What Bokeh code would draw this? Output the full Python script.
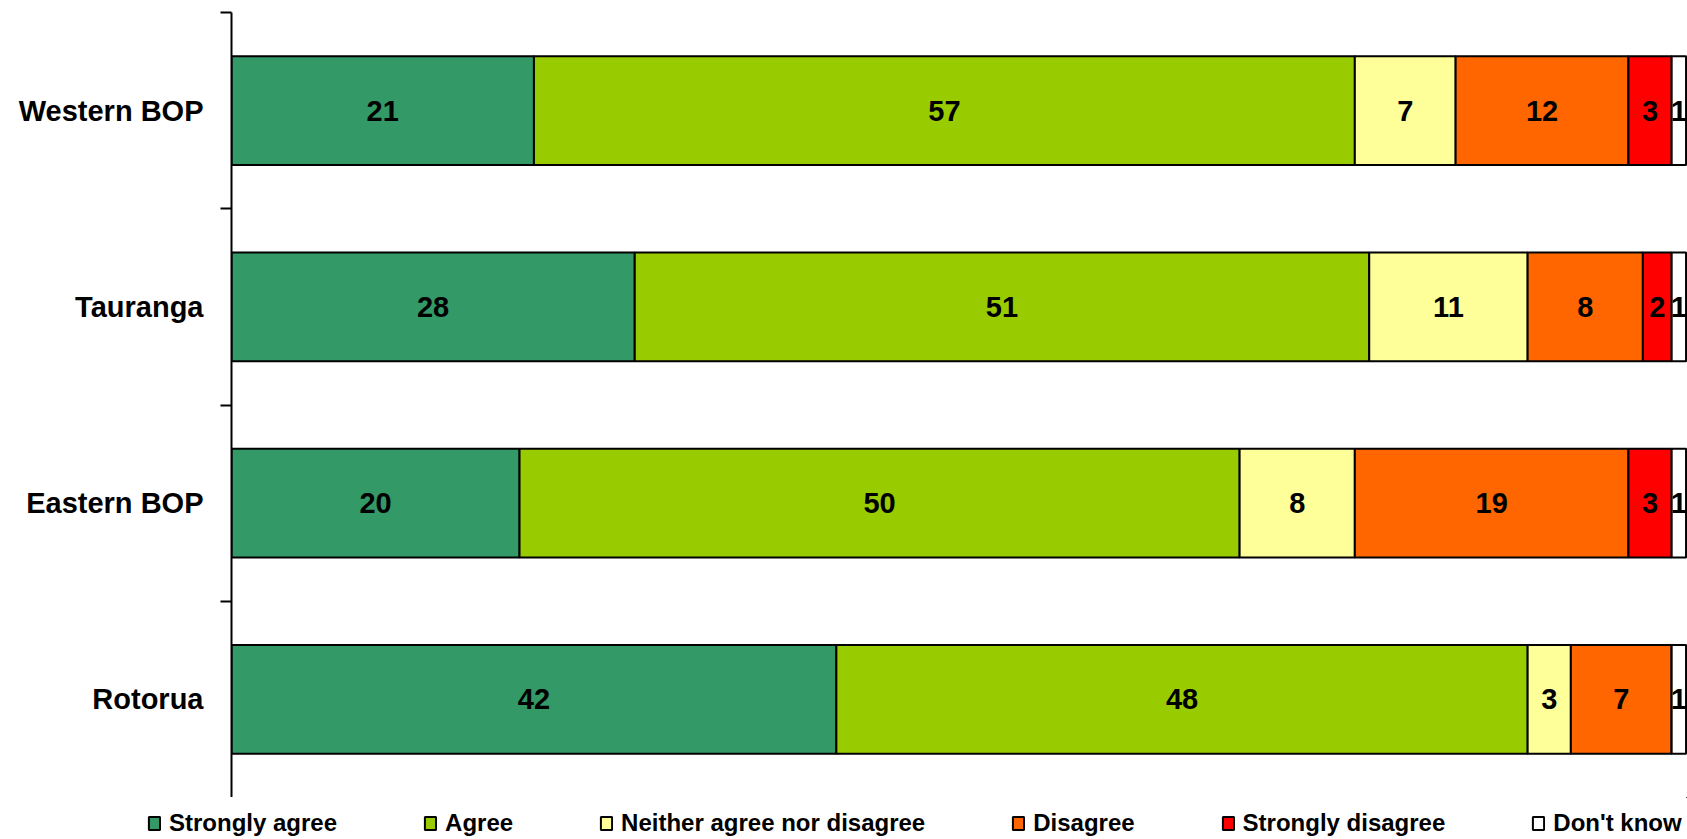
from bokeh.plotting import figure
from bokeh.layouts import column
from bokeh.models import Range1d, LinearAxis, FixedTicker, ColumnDataSource, Legend, LegendItem
from bokeh.core.properties import value
from bokeh.embed import file_html
from bokeh.resources import INLINE

# ---- data (top to bottom) ----
regions = ["Western BOP", "Tauranga", "Eastern BOP", "Rotorua"]
series_names = ["Strongly agree", "Agree", "Neither agree nor disagree",
                "Disagree", "Strongly disagree", "Don't know"]
strongly_agree = [21, 28, 20, 42]
agree = [57, 51, 50, 48]
neither = [7, 11, 8, 3]
disagree = [12, 8, 19, 7]
strongly_disagree = [3, 2, 3, 0]
dont_know = [1, 1, 1, 1]
colors = ["#339966", "#99CC00", "#FFFF99", "#FF6600", "#FF0000", "#FFFFFF"]

series_values = [strongly_agree, agree, neither, disagree, strongly_disagree, dont_know]

FONT = "Liberation Sans"

ypos = [len(regions) - 0.5 - i for i in range(len(regions))]

p = figure(width=1687, height=797, output_backend="svg", toolbar_location=None,
           x_range=Range1d(0, 101.1), y_range=Range1d(0, len(regions)),
           x_axis_location=None, y_axis_location=None,
           min_border_left=231, min_border_right=0, min_border_top=12, min_border_bottom=0)
p.frame_align = False
p.outline_line_color = None
p.grid.visible = False
p.background_fill_color = "white"

yaxis = LinearAxis(ticker=FixedTicker(ticks=ypos, minor_ticks=[1, 2, 3, 4]))
yaxis.major_label_overrides = {y: r for y, r in zip(ypos, regions)}
yaxis.major_tick_line_color = None
yaxis.major_tick_out = 0
yaxis.major_tick_in = 0
yaxis.minor_tick_out = 11
yaxis.minor_tick_in = 0
yaxis.minor_tick_line_color = "black"
yaxis.minor_tick_line_width = 2
yaxis.axis_line_color = "black"
yaxis.axis_line_width = 2
yaxis.major_label_text_font = FONT
yaxis.major_label_text_font_style = "bold"
yaxis.major_label_text_font_size = "29px"
yaxis.major_label_text_color = "black"
yaxis.major_label_standoff = 17
p.add_layout(yaxis, "left")

cum = [0] * len(regions)
lx, ly, lt = [], [], []
for name, vals, col in zip(series_names, series_values, colors):
    left = list(cum)
    right = [c + v for c, v in zip(cum, vals)]
    src = ColumnDataSource(dict(y=ypos, left=left, right=right))
    p.hbar(y="y", left="left", right="right", height=0.555, source=src,
           fill_color=col, line_color="black", line_width=2)
    for yy, a, b, v in zip(ypos, left, right, vals):
        if v > 0:
            lx.append((a + b) / 2)
            ly.append(yy)
            lt.append(str(v))
    cum = right

p.text(x=lx, y=ly, text=lt, text_font=value(FONT), text_font_style="bold",
       text_font_size="29px", text_align="center", text_baseline="middle",
       text_color="black")

# ---- legend strip (own frame spanning the full width, not aligned with the chart frame) ----
pl = figure(width=1687, height=42, output_backend="svg", toolbar_location=None,
            x_range=Range1d(0, 1), y_range=Range1d(0, 1),
            x_axis_location=None, y_axis_location=None,
            min_border_left=0, min_border_right=0, min_border_top=0, min_border_bottom=0)
pl.frame_align = False
pl.outline_line_color = None
pl.grid.visible = False
leg_renderers = []
for name, col in zip(series_names, colors):
    # one point far outside the visible range so the swatch is drawn but no bar shows
    src = ColumnDataSource(dict(y=[10], left=[10], right=[11]))
    r = pl.hbar(y="y", left="left", right="right", height=0.5, source=src,
                fill_color=col, line_color="black", line_width=2)
    leg_renderers.append(r)

legend = Legend(items=[LegendItem(label=n, renderers=[r]) for n, r in zip(series_names, leg_renderers)],
                orientation="horizontal", location=(147, 2), spacing=86,
                glyph_width=14, glyph_height=16, label_standoff=8,
                label_text_font=FONT, label_text_font_style="bold",
                label_text_font_size="24px", label_text_color="black",
                padding=0, margin=0,
                border_line_color=None, background_fill_alpha=0)
pl.add_layout(legend)

layout = column(p, pl, spacing=0)
open("out.html", "w").write(file_html(layout, INLINE))
